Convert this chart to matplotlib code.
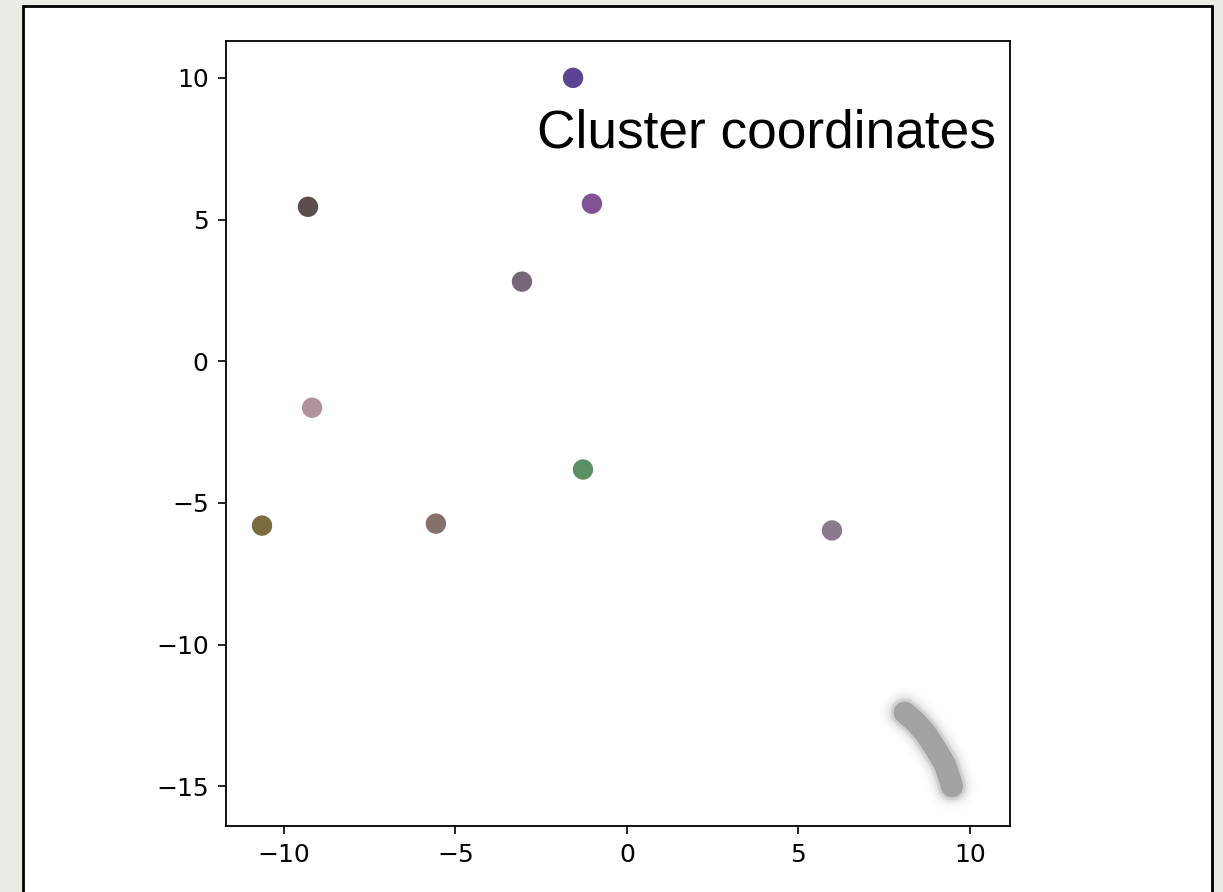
import matplotlib.pyplot as plt
from matplotlib.patches import Rectangle

# cluster centres (x, y) and their colours
cluster_x = [-1.57, -9.30, -1.02, -3.06, -9.18, -1.28, -10.64, -5.57, 5.98]
cluster_y = [10.0, 5.45, 5.56, 2.81, -1.64, -3.82, -5.80, -5.73, -5.97]
cluster_colors = ['#5b4592', '#5a4f4d', '#835196', '#766778', '#b0929f',
                  '#5a9163', '#7a6c3f', '#86706b', '#8a7a8e']

# dense trail of unassigned points, bottom right
trail_x = [8.10, 8.40, 8.69, 8.98, 9.27, 9.42, 9.48]
trail_y = [-12.40, -12.71, -13.10, -13.63, -14.22, -14.75, -15.0]

xticks = [-10, -5, 0, 5, 10]
yticks = [-15, -10, -5, 0, 5, 10]


def draw_trail(ax, xs, ys):
    # soft halo first, solid core on top
    for lw, alpha in [(36, 0.03), (31, 0.05), (27, 0.08), (23, 0.15), (20, 0.3)]:
        ax.plot(xs, ys, color='#a3a3a3', lw=lw, alpha=alpha,
                solid_capstyle='round', solid_joinstyle='round', zorder=1)
    ax.plot(xs, ys, color='#a3a3a3', lw=16,
            solid_capstyle='round', solid_joinstyle='round', zorder=2)


fig = plt.figure(figsize=(12.23, 8.92), dpi=100)
fig.patch.set_facecolor('#ebeae4')
panel = Rectangle((0.0188, -0.02), 0.9722, 1.0133,
                  transform=fig.transFigure, facecolor='white',
                  edgecolor='black', linewidth=2, zorder=-10)
fig.patches.append(panel)

ax = fig.add_axes([0.1848, 0.0740, 0.6410, 0.8800])
ax.set_zorder(1)
ax.scatter(cluster_x, cluster_y, c=cluster_colors, s=215, zorder=3,
           edgecolors='none')
draw_trail(ax, trail_x, trail_y)

ax.set_xlim(-11.69, 11.17)
ax.set_ylim(-16.4, 11.3)
ax.set_xticks(xticks)
ax.set_yticks(yticks)
ax.tick_params(labelsize=18, length=5.5, width=1.2, pad=7)
for spine in ax.spines.values():
    spine.set_linewidth(1.3)

ax.text(0.982, 0.864, 'Cluster coordinates', transform=ax.transAxes,
        ha='right', va='baseline', fontsize=38.3, family='Liberation Sans')

plt.savefig('out.png', dpi=100, facecolor=fig.get_facecolor())
